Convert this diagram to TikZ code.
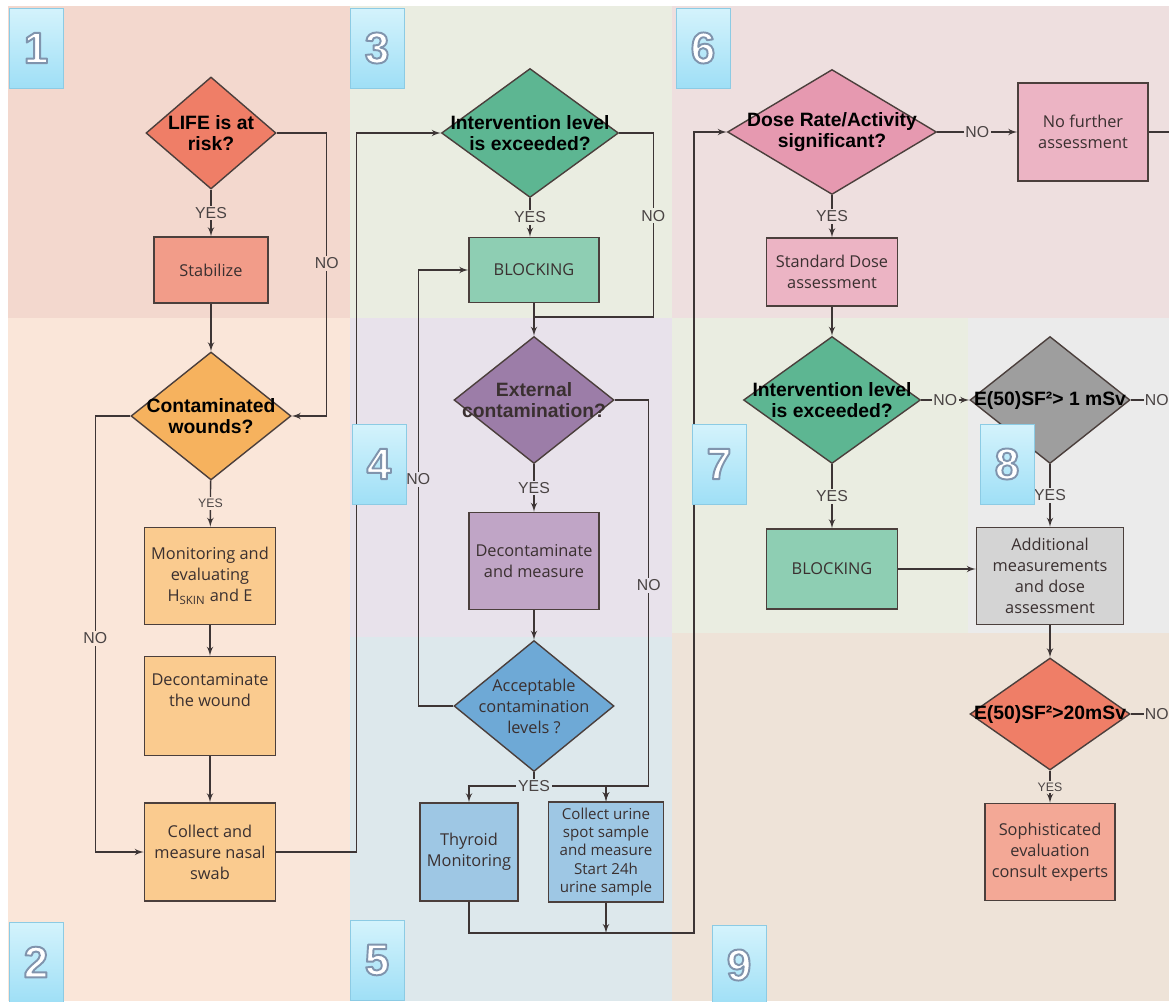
\documentclass[tikz,border=0pt]{standalone}
\usepackage{fontspec}
\setmainfont{Liberation Sans}
\newfontfamily\boxfont{Open Sans}
\usetikzlibrary{arrows,shapes.geometric}

\definecolor{bgA}{HTML}{F3D8CE}
\definecolor{bgB}{HTML}{FAE6D9}
\definecolor{bgC}{HTML}{EAEDE1}
\definecolor{bgD}{HTML}{E8E2EB}
\definecolor{bgE}{HTML}{DDE8EC}
\definecolor{bgF}{HTML}{EEDFDF}
\definecolor{bgG}{HTML}{EAEDE1}
\definecolor{bgH}{HTML}{EBEBEB}
\definecolor{bgI}{HTML}{EEE3D8}
\definecolor{redD}{HTML}{EF7E67}
\definecolor{redB}{HTML}{F29C89}
\definecolor{orD}{HTML}{F6B25E}
\definecolor{orB}{HTML}{FACB8F}
\definecolor{greenD}{HTML}{5DB692}
\definecolor{greenB}{HTML}{8ECEB3}
\definecolor{purpD}{HTML}{9C7DA8}
\definecolor{purpB}{HTML}{C0A5C6}
\definecolor{blueD}{HTML}{6EA9D6}
\definecolor{blueB}{HTML}{9EC7E4}
\definecolor{pinkD}{HTML}{E699B0}
\definecolor{pinkB}{HTML}{ECB4C4}
\definecolor{grayD}{HTML}{9E9E9E}
\definecolor{grayB}{HTML}{D4D4D4}
\definecolor{salB}{HTML}{F3A896}
\definecolor{linecol}{HTML}{3D3535}
\definecolor{edgecol}{HTML}{4B3F3C}
\definecolor{boxtext}{HTML}{3A3030}
\definecolor{lblcol}{HTML}{4A4444}
\definecolor{badgetop}{HTML}{D4F3FC}
\definecolor{badgebot}{HTML}{9FDFF6}
\definecolor{badgeedge}{HTML}{8CCBE4}

% white digit with a blue-grey outline (fill and stroke text mode)
\newcommand{\stepdigit}[1]{\special{pdf:code q 0.50 0.58 0.68 RG 1.1 w 1 j 2 Tr}#1\special{pdf:code Q}}

\tikzset{sz/.style 2 args = {minimum width = #1*0.02cm, minimum height = #2*0.02cm}}
\tikzset{box/.style = {draw = edgecol, line width = 0.8pt, align = center, text = boxtext,
    font = \boxfont\fontsize{9.3}{11.9}\selectfont}}
\tikzset{dec/.style = {diamond, draw = edgecol, line width = 0.8pt, inner sep = 0pt}}
\tikzset{dtext/.style = {align = center, font = \fontsize{11}{12}\selectfont\bfseries}}
\tikzset{wire/.style = {draw = linecol, line width = 0.8pt}}
\tikzset{edge/.style = {wire, ->, > = latex'}}
\tikzset{lbl/.style = {fill = #1, inner sep = 1pt, text = lblcol, font = \fontsize{9}{10}\selectfont}}
\tikzset{badge/.style = {draw = badgeedge, line width = 0.5pt, top color = badgetop, bottom color = badgebot,
    sz = {54}{80}, text = white, font = \fontsize{25}{25}\selectfont\bfseries}}

\begin{document}
\begin{tikzpicture}[x = 0.02cm, y = -0.02cm]
  \useasboundingbox (0,0) rectangle (1169,1001);
  \clip (0,0) rectangle (1169,1001);

  % backgrounds of the nine steps
  \fill[bgA] (8,6) rectangle (350,318);
  \fill[bgB] (8,318) rectangle (350,1001);
  \fill[bgC] (350,6) rectangle (672,318);
  \fill[bgD] (350,318) rectangle (672,637);
  \fill[bgE] (350,637) rectangle (672,1001);
  \fill[bgF] (672,6) rectangle (1169,318);
  \fill[bgG] (672,318) rectangle (968,633);
  \fill[bgH] (968,318) rectangle (1169,633);
  \fill[bgI] (672,633) rectangle (1169,1001);

  % first column
  \node[dec, fill = redD, sz = {130}{112}, label = {[dtext]center:{LIFE is at\\risk?}}] (d1) at (211,133) {};
  \node[box, fill = redB, sz = {114}{66}] (s1) at (211,270) {Stabilize};
  \node[dec, fill = orD, sz = {160}{128}, label = {[dtext]center:{Contaminated\\wounds?}}] (d2) at (211,416) {};
  \node[box, fill = orB, sz = {131}{97}] (b2) at (210,576) {Monitoring and\\evaluating\\H\textsubscript{SKIN} and E};
  \node[box, fill = orB, sz = {131}{99}] (b3) at (210,706) {Decontaminate\\the wound\\[6pt]};
  \node[box, fill = orB, sz = {131}{98}] (b4) at (210,852) {Collect and\\measure nasal\\swab};

  % second column
  \node[dec, fill = greenD, sz = {177}{129}, label = {[dtext]center:{Intervention level\\is exceeded?}}] (d3) at (530,133) {};
  \node[box, fill = greenB, sz = {130}{65}] (b5) at (534,270) {BLOCKING};
  \node[dec, fill = purpD, sz = {160}{127}, label = {[dtext, text = boxtext]center:{External\\contamination?}}] (d4) at (534,400) {};
  \node[box, fill = purpB, sz = {130}{97}] (b6) at (534,561) {Decontaminate\\and measure};
  \node[dec, fill = blueD, sz = {160}{131}, label = {[align = center, text = boxtext, font = \boxfont\fontsize{9.3}{11.9}\selectfont]center:{Acceptable\\contamination\\levels ?}}] (d5) at (534,706) {};
  \node[box, fill = blueB, sz = {98}{98}] (b7) at (469,852) {Thyroid\\Monitoring};
  \node[box, fill = blueB, sz = {115}{98}, font = \boxfont\fontsize{8.6}{10.4}\selectfont] (b8) at (606,852) {Collect urine\\spot sample\\and measure\\Start 24h\\urine sample};

  % third column
  \node[dec, fill = pinkD, sz = {209}{125}, label = {[dtext]center:{Dose Rate/Activity\\significant?}}] (d6) at (832,132) {};
  \node[box, fill = pinkB, sz = {130}{98}] (b9) at (1083,132) {No further\\assessment};
  \node[box, fill = pinkB, sz = {131}{68}] (b10) at (832,272) {Standard Dose\\assessment};
  \node[dec, fill = greenD, sz = {177}{127}, label = {[dtext]center:{Intervention level\\is exceeded?}}] (d7) at (832,400) {};
  \node[dec, fill = grayD, sz = {160}{127}, label = {[dtext]center:{E(50)SF²> 1 mSv}}] (d8) at (1050,400) {};
  \node[box, fill = greenB, sz = {131}{80}] (b11) at (832,569) {BLOCKING};
  \node[box, fill = grayB, sz = {147}{97}] (b12) at (1050,576) {Additional\\measurements\\and dose\\assessment};
  \node[dec, fill = redD, sz = {160}{112}, label = {[dtext]center:{E(50)SF²>20mSv}}] (d9) at (1050,714) {};
  \node[box, fill = salB, sz = {130}{97}] (b13) at (1050,852) {Sophisticated\\evaluation\\consult experts};

  \coordinate (j1) at (534,317);
  \coordinate (j2) at (534,786);
  \coordinate (j3) at (606,786);
  \coordinate (j4) at (694,933);

  % connectors
  \draw[edge] (d1) -- node[lbl = bgA] {YES} (s1);
  \draw[edge] (d1.east) -- ++(50,0) |- node[lbl = bgA, pos = 0.23] {NO} (d2.east);
  \draw[edge] (s1) -- (d2);
  \draw[edge] (d2) -- node[lbl = bgB, font = \fontsize{7}{8}\selectfont] {YES} (b2);
  \draw[edge] (d2.west) -- ++(-35,0) |- node[lbl = bgB, pos = 0.255] {NO} (b4.west);
  \draw[edge] (b2) -- (b3);
  \draw[edge] (b3) -- (b4);
  \draw[edge] (b4.east) -- ++(80,0) |- (d3.west);

  \draw[edge] (d3.south) -- node[lbl = bgC] {YES} (d3.south |- b5.north);
  \draw[wire] (d3.east) -- ++(34,0) |- node[lbl = bgC, pos = 0.225] {NO} (j1);
  \draw[edge] (b5) -- (d4);
  \draw[edge] (d4) -- node[lbl = bgD] {YES} (b6);
  \draw[edge] (d4.east) -- ++(34,0) |- node[lbl = bgD, pos = 0.24] {NO} (j3) -- (b8);
  \draw[edge] (b6) -- (d5);
  \draw[edge] (d5.west) -- ++(-35,0) |- node[lbl = bgD, pos = 0.26] {NO} (b5.west);
  \draw[wire] (d5) -- (j2);
  \draw[edge] (j2) -| (b7);
  \draw[edge] (j2) -| (b8);
  \node[lbl = bgE] (y5) at (j2) {YES};
  \draw[edge] (b7.south) |- (j4) |- (d6.west);
  \draw[edge] (b8.south) -- (b8.south |- j4);

  \draw[edge] (d6) -- node[lbl = bgF] {NO} (b9);
  \draw[wire] (b9.east) -- ++(40,0);
  \draw[edge] (d6) -- node[lbl = bgF] {YES} (b10);
  \draw[edge] (b10) -- (d7);
  \draw[edge] (d7) -- node[lbl = bgG] {NO} (d8);
  \draw[wire] (d8.east) -- ++(50,0) node[lbl = bgH, pos = 0.52, inner sep = 0.5pt] {NO};
  \draw[edge] (d7) -- node[lbl = bgG] {YES} (b11);
  \draw[edge] (d8) -- node[lbl = bgH] {YES} (b12);
  \draw[edge] (b11.east) -- (b11.east -| b12.west);
  \draw[edge] (b12) -- (d9);
  \draw[wire] (d9.east) -- ++(50,0) node[lbl = bgI, pos = 0.52, inner sep = 0.5pt] {NO};
  \draw[edge] (d9) -- node[lbl = bgI, font = \fontsize{7}{8}\selectfont] {YES} (b13);

  % step numbers
  \node[badge] (n1) at (36,48) {\stepdigit{1}};
  \node[badge] (n2) at (36,962) {\stepdigit{2}};
  \node[badge] (n3) at (377,48) {\stepdigit{3}};
  \node[badge] (n4) at (379,464) {\stepdigit{4}};
  \node[badge] (n5) at (377,960) {\stepdigit{5}};
  \node[badge] (n6) at (703,48) {\stepdigit{6}};
  \node[badge] (n7) at (719,464) {\stepdigit{7}};
  \node[badge] (n8) at (1007,464) {\stepdigit{8}};
  \node[badge] (n9) at (739,965) {\stepdigit{9}};
\end{tikzpicture}
\end{document}
